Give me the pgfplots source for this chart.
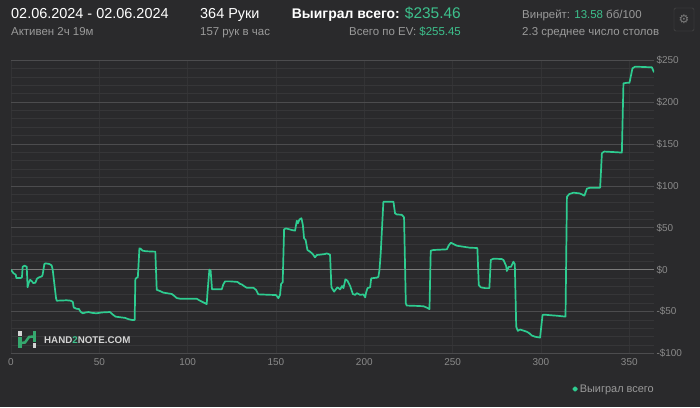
\documentclass[border=0pt]{standalone}
\usepackage{fontspec}
\setmainfont{Liberation Sans}
\newfontfamily\symfont{DejaVu Sans}
\usepackage{pgfplots}
\pgfplotsset{compat=1.18}
\definecolor{bg}{HTML}{2A2A2C}
\definecolor{minorgrid}{HTML}{363638}
\definecolor{majorgrid}{HTML}{4C4C4E}
\definecolor{zeroline}{HTML}{7C7C7C}
\definecolor{vgrid}{HTML}{333335}
\definecolor{linegreen}{HTML}{2ECC90}
\definecolor{textgreen}{HTML}{3DC08C}
\definecolor{greytext}{HTML}{9A9A9A}
\definecolor{ticktext}{HTML}{8A8A8A}
\definecolor{wmark}{HTML}{D4D4D4}
\definecolor{logogreen}{HTML}{35A86E}

\pgfplotstableread{
x y
0 0
1.3 -4
2.7 -6
3 -10
5.5 -10
6.2 -9
6.6 3.5
7.7 4.8
8.9 3.6
9.4 -21
10 -16
10.8 -12
11.9 -14
12.6 -16
13.8 -15.5
14.7 -10.7
16 -9
17.4 -8
17.9 -6
18.9 6.8
19.6 7.6
21.7 6.8
23 5.2
23.6 0
25.5 -34
25.9 -37
31.5 -36.5
33.9 -37
35 -38.5
35.5 -45
36.9 -46.5
38.5 -47
39.3 -50
40.6 -52
42.4 -51
43.9 -50.5
45.8 -51.5
48.5 -52
51.5 -51
56 -50.5
57.9 -54
59.2 -56
62.7 -57
64.6 -57.5
66.4 -59
68.5 -60
70 -60
70.4 -11.5
71.1 -9.5
71.8 -9
72.7 25.5
73.4 25
74.5 22.7
76.5 22
81.7 21.5
82.5 -24
84.4 -25.5
86.3 -27.4
88.2 -28
91 -29
92 -30.5
93.8 -33.8
95.7 -34.6
105.1 -34.6
107 -37
108.9 -39
110.8 -41
111.2 -28
112.3 0
113 -1
113.8 -23.4
119.3 -23.4
120.2 -17.5
121.2 -13.9
124 -13.9
128.2 -14.6
129.7 -17
130.6 -17.5
131.9 -19.5
133.4 -21.5
137.2 -21.5
138.7 -24
140 -29.4
146.7 -30
150 -30.2
151.4 -34
152.3 -30
152.9 -17
153.8 -15
154.6 48.2
155.7 49.3
158.9 47.4
160.8 46.6
161.8 58.5
162.4 55.3
163.3 60
164.4 61.4
165.2 53.6
165.9 37.5
166.8 35.4
167.8 23.5
169.3 21.5
170.8 18.7
172.1 14.7
173.1 17.5
177.8 18.7
178.7 19.5
180.6 18
181.4 -21
182.9 -26.2
183.6 -24.2
184.8 -21
186.3 -23.5
187.4 -19.5
188.2 -22
189.3 -11.5
190.4 -13
192 -19.5
193.5 -29
194.8 -30
195.8 -28
197.6 -30
199.5 -29.5
200.5 -33
201 -27.5
201.8 -22
203.3 -21
203.9 -10.3
207.1 -9.5
208 -8.4
208.6 0
209.3 20
210.8 81
216.5 81
217.4 67.3
218.3 66
221.2 65.5
222.5 62.5
223.5 -40
224 -42.8
229.7 -43.2
233.5 -43.6
235.4 -45.3
236.9 -47
237.6 22.7
239.1 23.5
246.7 24.3
247.8 29
249 32.2
250.5 30.6
252.4 28.6
256.2 27.4
259.9 26.2
264 25.9
264.8 -18.3
265.9 -21
268.4 -22
270.8 -22
271.6 11.6
273.2 13.2
277.8 12.7
278.8 11.6
280.3 4.4
280.7 -1.5
281.8 3.4
283 3.4
283.7 6.3
284.4 9.5
285.2 6.7
286 -68
286.9 -73
288.2 -71.4
290.1 -72.7
292 -74
293.5 -76
294.8 -78.5
296.7 -80
299.5 -81
300.9 -54
301.8 -53.6
305.2 -54.3
309 -54.9
313.9 -56
314.7 87
316 90.2
318.4 91.9
321.8 91.1
323.1 90
324.6 88.3
326 96.7
327.9 97.9
333.5 97.9
334.5 139
335.8 141
345.8 139.8
346.7 222.4
348.6 223
350.1 223
351.8 240.3
353.3 242.3
362.8 241.5
364 235.46
}\winnings

\begin{document}
\begin{tikzpicture}[x=1bp,y=1bp]
\fill[bg] (0,0) rectangle (700,407);
\useasboundingbox (0,0) rectangle (700,407);

% header
\node[anchor=base west, inner sep=0, text=white, font=\fontsize{14.5}{16}\selectfont] at (11,388.5) {02.06.2024 - 02.06.2024};
\node[anchor=base west, inner sep=0, text=greytext, font=\fontsize{11.5}{13}\selectfont] at (11,371.5) {Активен 2ч 19м};
\node[anchor=base west, inner sep=0, text=white, font=\fontsize{14.5}{16}\selectfont] at (200,388.5) {364 Руки};
\node[anchor=base west, inner sep=0, text=greytext, font=\fontsize{11.5}{13}\selectfont] at (200,371.5) {157 рук в час};
\node[anchor=base east, inner sep=0, text=white, font=\fontsize{14}{16}\selectfont] at (461,388.5) {\textbf{Выиграл всего:} {\fontsize{15.5}{17}\selectfont\color{textgreen}\$235.46}};
\node[anchor=base east, inner sep=0, text=greytext, font=\fontsize{11.5}{13}\selectfont] at (461,371.5) {Всего по EV: \textcolor{textgreen}{\$255.45}};
\node[anchor=base west, inner sep=0, text=greytext, font=\fontsize{11.5}{13}\selectfont] at (522,388.5) {Винрейт: \textcolor{textgreen}{13.58} бб/100};
\node[anchor=base west, inner sep=0, text=greytext, font=\fontsize{11.5}{13}\selectfont] at (522,371.5) {2.3 среднее число столов};
\draw[draw=black!70!white, rounded corners=1.5] (674,376) rectangle (694,399);
\node[text=greytext!80!black, inner sep=0, font=\symfont\fontsize{12}{12}\selectfont] at (684,387.5) {⚙};

\begin{axis}[
  at={(11bp,53.5bp)}, anchor=south west,
  scale only axis, width=643bp, height=293.3bp,
  xmin=0, xmax=364, ymin=-100, ymax=250,
  axis line style={draw=none},
  major tick length=0pt, minor tick length=0pt,
  xtick={0,50,100,150,200,250,300,350},
  xticklabels={0,50,100,150,200,250,300,350},
  ytick={-100,-50,0,50,100,150,200,250},
  yticklabels={-\$100,-\$50,\$0,\$50,\$100,\$150,\$200,\$250},
  minor ytick={-90,-80,-70,-60,-40,-30,-20,-10,10,20,30,40,60,70,80,90,110,120,130,140,160,170,180,190,210,220,230,240},
  yticklabel pos=right,
  /pgf/number format/assume math mode=true,
  ticklabel style={text=ticktext, font=\fontsize{10}{12}\selectfont},
  xticklabel style={yshift=-2bp},
  yticklabel style={anchor=west, xshift=-1bp},
  xmajorgrids, yminorgrids,
  major grid style={draw=vgrid, line width=0.8bp},
  minor grid style={draw=minorgrid, line width=0.8bp},
  extra y ticks={-100,-50,50,100,150,200,250}, extra y tick labels={},
  extra y tick style={grid=major, major grid style={draw=majorgrid, line width=0.8bp}},
  legend style={at={(1,0)}, anchor=east, yshift=-35.5bp, xshift=2bp,
    draw=none, fill=none, text=greytext, font=\fontsize{11}{13}\selectfont,
    inner sep=0pt},
  legend image code/.code={\fill[linegreen] (0.12cm,0) circle (1.8bp);},
]
\addplot[draw=zeroline, line width=1.2bp, forget plot] coordinates {(0,0) (364,0)};
\addplot[draw=linegreen, line width=1.7bp, line join=round] table[x=x,y=y] {\winnings};
\addlegendentry{Выиграл всего}
\end{axis}

% watermark logo
\fill[wmark] (18,71) rectangle (21.5,76);
\fill[logogreen] (18,59) rectangle (21.5,70);
\fill[logogreen] (32.5,65) rectangle (36,76);
\fill[wmark] (32.5,59) rectangle (36,64);
\draw[logogreen, line width=2.5bp] (21,64) -- (25,64.5) -- (29,70) -- (33,70.5);
\node[anchor=west, inner sep=0, text=wmark, font=\bfseries\fontsize{9.8}{11}\selectfont] at (44,67) {HAND\textcolor{textgreen}{2}NOTE.COM};
\end{tikzpicture}
\end{document}
